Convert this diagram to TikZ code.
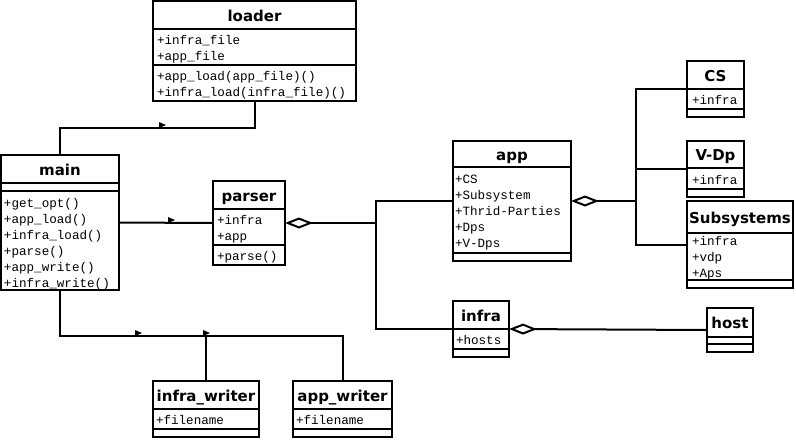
\documentclass[tikz,border=0pt]{standalone}
\usepackage{fontspec}
\newfontfamily\titlefont{DejaVu Sans}
\newfontfamily\memberfont{Liberation Mono}
\usetikzlibrary{arrows.meta}

% one class box: name, left, top, right, title rule, member rule, bottom, title
\newcommand\umlclass[8]{%
  \node[classbox,minimum width={(#4-#2)*1pt},minimum height={(#7-#3)*1pt}] (#1) at ({(#2+#4)/2},{(#3+#7)/2}) {};
  \draw[divider] (#2,#5) -- (#4,#5) (#2,#6) -- (#4,#6);
  \node[classname] (#1-name) at ({(#2+#4)/2},{(#3+#5)/2+6}) {#8};
}
% member lines: prefix, x, first baseline, list
\newcommand\members[4]{%
  \foreach \m [count=\i] in {#4}
    \node[member] (#1-\i) at (#2,{#3+16*(\i-1)}) {\m};
}
% small navigability mark on a link
\newcommand\navtip[2]{\fill (#1,#2) -- ++(0,-6) -- ++(7,3) -- cycle;}

\begin{document}
\begin{tikzpicture}
[x=1pt,y=-1pt,line width=2pt
,classbox/.style={draw,rectangle,inner sep=0pt,outer sep=0pt}
,divider/.style={draw}
,classname/.style={anchor=base,inner sep=0pt,font=\titlefont\bfseries\fontsize{15}{17}\selectfont}
,member/.style={anchor=base west,inner sep=0pt,font=\memberfont\fontsize{12.6}{14}\selectfont}
,link/.style={draw}
,aggr/.style={draw,arrows={Diamond[open,length=28pt,width=11pt]-}}]
\fill[white] (0,0) rectangle (796,440);
\useasboundingbox (0,0) rectangle (796,440);

\umlclass{loader}{153}{1}{356}{29}{65}{101}{loader}
\members{loader-a}{156}{44}{+infra\_file,+app\_file}
\members{loader-o}{156}{80}{+app\_load(app\_file)(),+infra\_load(infra\_file)()}

\umlclass{main}{1}{155}{119}{183}{191}{290}{main}
\members{main-o}{3}{207}{+get\_opt(),+app\_load(),+infra\_load(),+parse(),+app\_write(),+infra\_write()}

\umlclass{parser}{213}{181}{285}{209}{245}{265}{parser}
\members{parser-a}{216}{224}{+infra,+app}
\members{parser-o}{216}{260}{+parse()}

\umlclass{app}{453}{141}{571}{167}{253}{261}{app}
\members{app-a}{454}{183}{+CS,+Subsystem,+Thrid-Parties,+Dps,+V-Dps}

\umlclass{cs}{687}{61}{744}{89}{109}{117}{CS}
\members{cs-a}{691}{104}{+infra}
\umlclass{vdp}{687}{141}{744}{168}{189}{197}{V-Dp}
\members{vdp-a}{691}{184}{+infra}
\umlclass{subsys}{687}{201}{793}{233}{280}{288}{Subsystems}
\members{subsys-a}{691}{245}{+infra,+vdp,+Aps}

\umlclass{infra}{453}{301}{509}{329}{349}{357}{infra}
\members{infra-a}{455}{344}{+hosts}
\umlclass{host}{707}{308}{753}{337}{344}{352}{host}

\umlclass{infw}{153}{381}{259}{409}{429}{437}{infra\_writer}
\members{infw-a}{155}{424}{+filename}
\umlclass{appw}{293}{381}{392}{409}{429}{437}{app\_writer}
\members{appw-a}{295}{424}{+filename}

% links
\coordinate (lbus) at (60,128);
\coordinate (wbus) at (60,336);
\coordinate (pj) at (376,223);
\coordinate (aj) at (636,201);
\draw[link] (main.north) -- (lbus) -| (loader.south);
\draw[link] (main.east) -- (parser.west);
\draw[link] (main.south) -- (wbus) -| (appw.north);
\draw[link] (infw.north) -- (infw.north |- wbus);
\draw[aggr] (parser.east) -- (pj);
\draw[link] (app.west) -| (pj) |- (infra.west);
\draw[aggr] (app.east) -- (aj);
\draw[link] (cs.west) -| (aj) |- (subsys.west);
\draw[link] (vdp.west) -- (aj |- vdp.west);
\draw[aggr] (infra.east) -- (host.west);
\navtip{159}{128}
\navtip{168}{223}
\navtip{135}{336}
\navtip{203}{336}
\end{tikzpicture}
\end{document}
